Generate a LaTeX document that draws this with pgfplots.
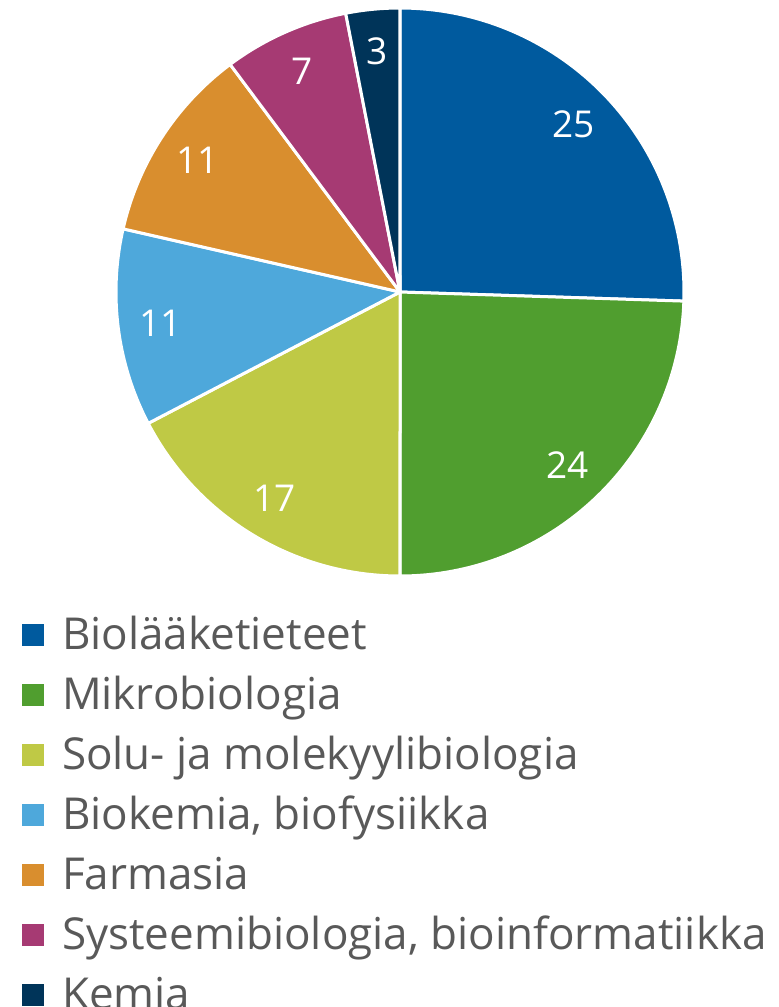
\documentclass[border=0pt]{standalone}
\usepackage{pgfplots}
\usepackage{pgfplotstable}
\pgfplotsset{compat=1.18}
\usepackage{fontspec}
\setmainfont{Open Sans}
\definecolor{cA}{RGB}{0,90,158}
\definecolor{cB}{RGB}{80,158,47}
\definecolor{cC}{RGB}{191,201,69}
\definecolor{cD}{RGB}{78,168,219}
\definecolor{cE}{RGB}{217,142,46}
\definecolor{cF}{RGB}{166,58,115}
\definecolor{cG}{RGB}{0,52,89}
\definecolor{txt}{RGB}{89,89,89}
\pgfplotstableread{
value start
25 0
24 25
17 49
11 66
11 77
7 88
3 95
}\piedata
\pgfplotstablecreatecol[create col/expr={0.85*cos(90-360*(\thisrow{start}+\thisrow{value}/2)/98)}]{lx}\piedata
\pgfplotstablecreatecol[create col/expr={0.85*sin(90-360*(\thisrow{start}+\thisrow{value}/2)/98)}]{ly}\piedata
\newcommand\slice[4]{%
  \addplot[fill=#3, draw=white, line width=3pt, line join=round, domain={90-360*(#1+#2)/98}:{90-360*#1/98}, samples=120] ({cos(x)},{sin(x)}) -- (axis cs:0,0) -- cycle;
  \addlegendentry{#4}
}
\begin{document}
\begin{tikzpicture}
\useasboundingbox (0,0) rectangle (779pt,-1007pt);
\begin{axis}[
  x=284pt, y=284pt, anchor=origin, at={(400pt,-292pt)},
  xmin=-1, xmax=1, ymin=-1, ymax=1, hide axis, clip=false,
  legend cell align=left,
  legend image code/.code={\fill[#1,draw=none] (0pt,-11pt) rectangle (22pt,11pt);},
  legend style={draw=none, fill=none, inner sep=0pt, outer sep=0pt,
    at={(axis description cs:{(22-116)/568},{(576-609)/568})}, anchor=north west,
    row sep=8pt, column sep=18pt, text=txt,
    nodes={inner sep=0pt, text height=40pt, text depth=12pt, font=\fontsize{44pt}{52pt}\selectfont}},
]
\slice{0}{25}{cA}{Biolääketieteet}
\slice{25}{24}{cB}{Mikrobiologia}
\slice{49}{17}{cC}{Solu- ja molekyylibiologia}
\slice{66}{11}{cD}{Biokemia, biofysiikka}
\slice{77}{11}{cE}{Farmasia}
\slice{88}{7}{cF}{Systeemibiologia, bioinformatiikka}
\slice{95}{3}{cG}{Kemia}
\addplot[only marks, mark=none, nodes near coords, point meta=explicit symbolic,
  nodes near coords style={anchor=center, text=white, font=\fontsize{37pt}{45pt}\selectfont}, forget plot]
  table[x=lx, y=ly, meta=value]{\piedata};
\end{axis}
\end{tikzpicture}
\end{document}
